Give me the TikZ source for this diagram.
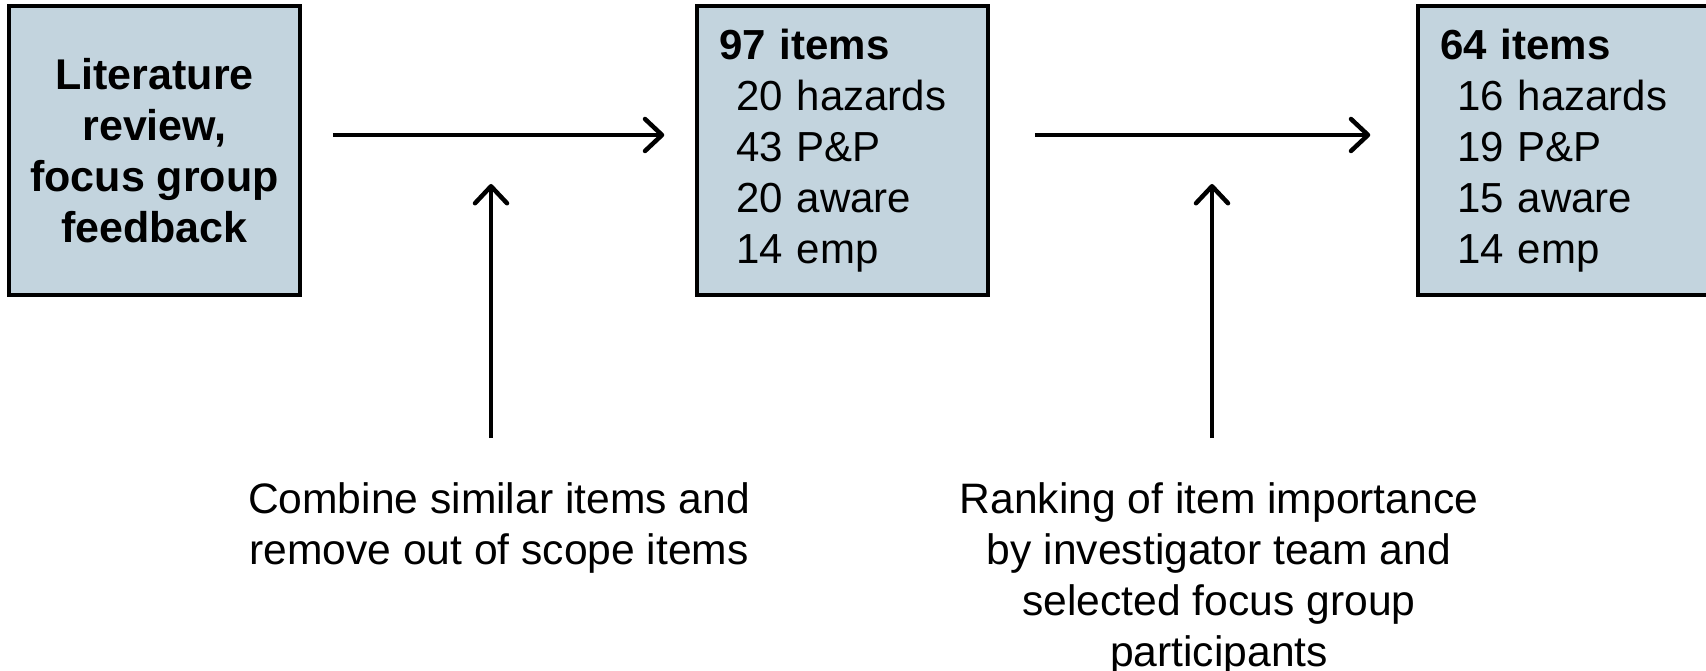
\documentclass[tikz,border=0pt]{standalone}
\usepackage{fontspec}
\setmainfont{Liberation Sans}
\usetikzlibrary{arrows.meta}
\definecolor{boxfill}{HTML}{C3D4DE}
\tikzset{
  box/.style={draw=black, line width=3.5pt, fill=boxfill, rectangle,
    minimum height=289pt, inner ysep=0pt},
  listbox/.style={box, text width=247pt, align=left, inner xsep=22pt,
    font=\fontsize{42}{51}\selectfont},
  headbox/.style={box, minimum width=291pt, align=center, inner xsep=0pt,
    font=\bfseries\fontsize{43}{51}\selectfont},
  arr/.style={line width=4.5pt, -{Straight Barb[length=17pt, width=32pt, round]}},
  note/.style={align=center, inner sep=0pt, anchor=north,
    font=\fontsize{42.6}{51}\selectfont}
}
\newcommand{\ind}{\hspace*{17pt}}
\begin{document}
\begin{tikzpicture}[x=1pt, y=-1pt]
\useasboundingbox (0,0) rectangle (1706,671);
\node[headbox] (b1) at (154.5,150.5) {Literature\\review,\\focus group\\feedback};
\node[listbox] (b2) at (842.5,150.5) {\textbf{97 items}\\\ind 20 hazards\\\ind 43 P\&P\\\ind 20 aware\\\ind 14 emp};
\node[listbox] (b3) at (1563.5,150.5) {\textbf{64 items}\\\ind 16 hazards\\\ind 19 P\&P\\\ind 15 aware\\\ind 14 emp};
\draw[arr, shorten <=31pt, shorten >=31pt] ([yshift=15.5pt]b1.east) -- ([yshift=15.5pt]b2.west);
\draw[arr, shorten <=45pt, shorten >=46pt] ([yshift=15.5pt]b2.east) -- ([yshift=15.5pt]b3.west);
\node[note] (t1) at (499,482) {Combine similar items and\\remove out of scope items};
\node[note] (t2) at (1219,482) {Ranking of item importance\\by investigator team and\\selected focus group\\participants};
\coordinate (v1a) at (491,438);
\coordinate (v1b) at (491,184);
\coordinate (v2a) at (1212,438);
\coordinate (v2b) at (1212,184);
\draw[arr] (v1a) -- (v1b);
\draw[arr] (v2a) -- (v2b);
\end{tikzpicture}
\end{document}
